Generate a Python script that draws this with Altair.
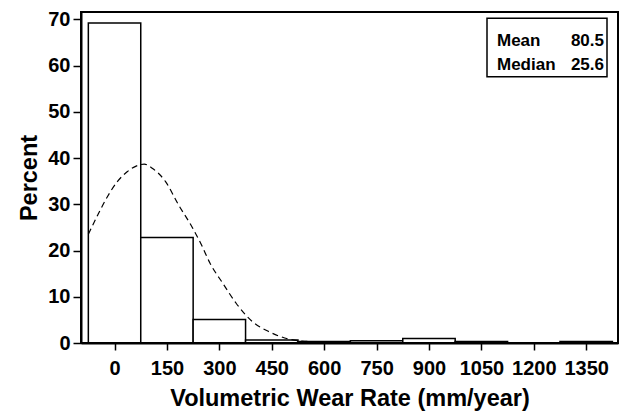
import altair as alt
import pandas as pd

# Histogram bins (bin centres 0,150,...,1350; width 150)
bin_start = [-75, 75, 225, 375, 525, 675, 825, 975, 1125, 1275]
bin_end = [75, 225, 375, 525, 675, 825, 975, 1125, 1275, 1425]
percent = [69.2, 22.8, 5.1, 0.65, 0.3, 0.5, 1.0, 0.3, 0.0, 0.3]

# Fitted normal curve
curve_x = [-75, -48, -20, 8, 37, 70, 85, 108, 146, 183, 221, 249, 273, 310,
           348, 395, 442, 498, 536, 620, 700, 800, 1425]
curve_y = [23.5, 27.7, 31.7, 34.9, 37.1, 38.5, 38.7, 37.8, 34.9, 29.9, 25.2,
           21.2, 17.3, 12.9, 8.6, 4.6, 2.45, 0.87, 0.43, 0.15, 0.05, 0.0, 0.0]

x_ticks = [0, 150, 300, 450, 600, 750, 900, 1050, 1200, 1350]
y_ticks = [0, 10, 20, 30, 40, 50, 60, 70]

stat_labels = ["Mean", "Median"]
stat_values = ["80.5", "25.6"]

FONT = "Liberation Sans"
W, H = 537, 331

bars_df = pd.DataFrame({"start": bin_start, "end": bin_end, "pct": percent,
                        "base": [0] * len(percent)})
curve_df = pd.DataFrame({"x": curve_x, "y": curve_y})

x_scale = alt.Scale(domain=[-96, 1441], nice=False, zero=False)
y_scale = alt.Scale(domain=[0, 71.6], nice=False)

common = dict(grid=False, format="d", labelFont=FONT, titleFont=FONT,
              labelFontWeight="bold", titleFontWeight="bold",
              labelFontSize=20, titleFontSize=23.5, domainColor="black", domainWidth=2,
              tickColor="black", tickWidth=1.5, labelColor="black", titleColor="black")

x_axis = alt.Axis(values=x_ticks, title="Volumetric Wear Rate (mm/year)",
                  labelPadding=8, titlePadding=8, tickSize=7, labelFlush=False, **common)
y_axis = alt.Axis(values=y_ticks, title="Percent",
                  labelPadding=3, titlePadding=6, tickSize=8, **common)

bars = alt.Chart(bars_df).mark_rect(fill="white", stroke="black", strokeWidth=1.5).encode(
    x=alt.X("start:Q", scale=x_scale, axis=x_axis),
    x2="end:Q",
    y=alt.Y("pct:Q", scale=y_scale, axis=y_axis),
    y2="base:Q",
)

curve = alt.Chart(curve_df).mark_line(color="black", strokeWidth=1.2,
                                      strokeDash=[6, 4], interpolate="monotone",
                                      clip=True).encode(
    x=alt.X("x:Q", scale=x_scale),
    y=alt.Y("y:Q", scale=y_scale),
)

frame = alt.Chart(curve_df).mark_rect(fill=None, stroke="black", strokeWidth=2).encode(
    x=alt.value(0), x2=alt.value(W), y=alt.value(0), y2=alt.value(H)
).transform_filter("datum.x == -75")

box = alt.Chart(curve_df).mark_rect(fill="white", stroke="black", strokeWidth=1.5).encode(
    x=alt.value(W - 131), x2=alt.value(W - 11), y=alt.value(6.3), y2=alt.value(64.7)
).transform_filter("datum.x == -75")

text_layers = []
for i, (lab, val) in enumerate(zip(stat_labels, stat_values)):
    base_y = 33.5 + 24 * i
    t1 = alt.Chart(curve_df).mark_text(align="left", baseline="alphabetic", fontSize=17,
                                       fontWeight="bold", font=FONT, color="black",
                                       text=lab).encode(
        x=alt.value(W - 121), y=alt.value(base_y)).transform_filter("datum.x == -75")
    t2 = alt.Chart(curve_df).mark_text(align="right", baseline="alphabetic", fontSize=17,
                                       fontWeight="bold", font=FONT, color="black",
                                       text=val).encode(
        x=alt.value(W - 14), y=alt.value(base_y)).transform_filter("datum.x == -75")
    text_layers += [t1, t2]

chart = alt.layer(bars, curve, frame, box, *text_layers).properties(
    width=W, height=H,
    autosize=alt.AutoSizeParams(type="none"),
    padding={"left": 73, "top": 4, "right": 1, "bottom": 68},
).configure_view(stroke=None).configure(background="white")

chart.save("out.html", embed_options={"renderer": "svg", "actions": False})
